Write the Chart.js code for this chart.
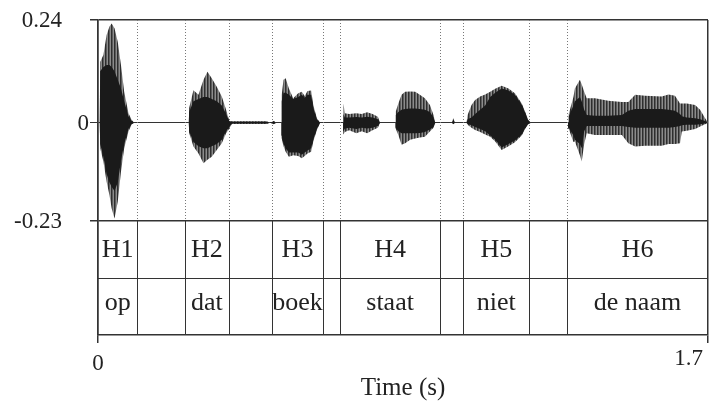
<!DOCTYPE html>
<html>
<head>
<meta charset="utf-8">
<title>Waveform</title>
<script src="https://cdn.jsdelivr.net/npm/chart.js@4.4.1/dist/chart.umd.min.js"></script>
<style>
  html, body { margin: 0; padding: 0; background: #fff; }
  #wrap { width: 711px; height: 403px; }
</style>
</head>
<body>
<div id="wrap"><canvas id="waveChart"></canvas></div>
<script>
// amplitude envelope of the recording, one row per word
const waveTime = [
    0, 0.005, 0.006, 0.015, 0.024, 0.032, 0.038, 0.046, 0.055, 0.064, 0.073, 0.085, 0.094, 0.101,
    0.253, 0.254, 0.266, 0.280, 0.294, 0.305, 0.317, 0.331, 0.345, 0.357, 0.366, 0.373, 0.470, 0.480, 0.490, 0.497,
    0.511, 0.512, 0.517, 0.523, 0.532, 0.544, 0.558, 0.568, 0.576, 0.584, 0.594, 0.600, 0.610, 0.619,
    0.683, 0.684, 0.688, 0.700, 0.720, 0.735, 0.750, 0.765, 0.780, 0.786,
    0.829, 0.830, 0.837, 0.846, 0.856, 0.870, 0.884, 0.897, 0.911, 0.925, 0.935, 0.940, 0.986, 0.990, 0.995,
    1.027, 1.030, 1.041, 1.051, 1.065, 1.079, 1.093, 1.107, 1.125, 1.144, 1.162, 1.181, 1.190, 1.199, 1.207,
    1.310, 1.312, 1.325, 1.329, 1.343, 1.348, 1.355, 1.362, 1.385, 1.422, 1.460, 1.478, 1.497, 1.525, 1.571, 1.590, 1.608, 1.622, 1.627, 1.641, 1.664, 1.678, 1.692, 1.700
];
const waveTop = [
    0, 0, 0.142, 0.158, 0.205, 0.225, 0.232, 0.221, 0.189, 0.135, 0.072, 0.022, 0.006, 0,
    0, 0.034, 0.076, 0.065, 0.100, 0.119, 0.104, 0.084, 0.061, 0.030, 0.004, 0.003, 0.003, 0, 0.004, 0,
    0, 0.065, 0.100, 0.104, 0.080, 0.057, 0.069, 0.072, 0.062, 0.074, 0.075, 0.041, 0.010, 0,
    0, 0.045, 0.022, 0.020, 0.022, 0.020, 0.024, 0.020, 0.014, 0,
    0, 0.026, 0.045, 0.065, 0.072, 0.073, 0.072, 0.065, 0.057, 0.041, 0.018, 0, 0, 0.010, 0,
    0, 0.018, 0.041, 0.053, 0.061, 0.066, 0.072, 0.079, 0.086, 0.080, 0.069, 0.045, 0.026, 0.006, 0,
    0, 0.020, 0.060, 0.080, 0.100, 0.090, 0.072, 0.057, 0.057, 0.051, 0.048, 0.048, 0.065, 0.063, 0.061, 0.066, 0.063, 0.045, 0.045, 0.045, 0.041, 0.030, 0.010, 0
];
const waveBottom = [
    0, 0, -0.060, -0.091, -0.138, -0.170, -0.200, -0.224, -0.185, -0.115, -0.060, -0.021, -0.004, 0,
    0, -0.024, -0.056, -0.072, -0.095, -0.087, -0.080, -0.064, -0.048, -0.025, -0.014, -0.003, -0.003, 0, -0.004, 0,
    0, -0.037, -0.055, -0.068, -0.080, -0.076, -0.078, -0.083, -0.078, -0.072, -0.068, -0.044, -0.017, 0,
    0, -0.027, -0.022, -0.018, -0.025, -0.020, -0.025, -0.018, -0.012, 0,
    0, -0.015, -0.029, -0.052, -0.048, -0.040, -0.037, -0.035, -0.033, -0.021, -0.012, 0, 0, -0.004, 0,
    0, -0.005, -0.012, -0.017, -0.022, -0.028, -0.033, -0.044, -0.064, -0.055, -0.046, -0.030, -0.015, -0.004, 0,
    0, -0.015, -0.045, -0.044, -0.076, -0.091, -0.050, -0.025, -0.029, -0.029, -0.029, -0.048, -0.056, -0.054, -0.054, -0.050, -0.050, -0.048, -0.021, -0.019, -0.015, -0.009, -0.004, 0
];
// the dense inner part of the signal
const coreTop = [
    0, 0, 0.120, 0.130, 0.135, 0.135, 0.130, 0.120, 0.100, 0.080, 0.050, 0.015, 0.004, 0,
    0, 0.025, 0.050, 0.055, 0.060, 0.060, 0.055, 0.050, 0.040, 0.020, 0.003, 0.002, 0.002, 0, 0.003, 0,
    0, 0.050, 0.070, 0.070, 0.065, 0.055, 0.060, 0.065, 0.058, 0.065, 0.065, 0.035, 0.008, 0,
    0, 0.020, 0.012, 0.012, 0.013, 0.012, 0.014, 0.012, 0.008, 0,
    0, 0.018, 0.025, 0.030, 0.032, 0.033, 0.033, 0.032, 0.030, 0.025, 0.012, 0, 0, 0.006, 0,
    0, 0.008, 0.012, 0.020, 0.030, 0.040, 0.060, 0.070, 0.080, 0.075, 0.065, 0.042, 0.024, 0.005, 0,
    0, 0.015, 0.040, 0.050, 0.060, 0.050, 0.030, 0.018, 0.016, 0.016, 0.018, 0.028, 0.032, 0.032, 0.032, 0.030, 0.028, 0.020, 0.015, 0.012, 0.010, 0.008, 0.004, 0
];
const coreBottom = [
    0, 0, -0.050, -0.080, -0.120, -0.140, -0.150, -0.160, -0.140, -0.090, -0.050, -0.015, -0.003, 0,
    0, -0.020, -0.045, -0.055, -0.060, -0.060, -0.055, -0.050, -0.040, -0.020, -0.010, -0.002, -0.002, 0, -0.003, 0,
    0, -0.030, -0.050, -0.060, -0.070, -0.070, -0.070, -0.075, -0.070, -0.065, -0.060, -0.040, -0.015, 0,
    0, -0.020, -0.014, -0.012, -0.015, -0.012, -0.014, -0.012, -0.008, 0,
    0, -0.012, -0.020, -0.025, -0.025, -0.025, -0.025, -0.024, -0.022, -0.016, -0.010, 0, 0, -0.003, 0,
    0, -0.003, -0.006, -0.010, -0.015, -0.020, -0.030, -0.040, -0.058, -0.050, -0.042, -0.028, -0.014, -0.003, 0,
    0, -0.012, -0.030, -0.040, -0.050, -0.060, -0.020, -0.008, -0.008, -0.008, -0.008, -0.010, -0.012, -0.012, -0.012, -0.012, -0.010, -0.008, -0.006, -0.005, -0.005, -0.004, -0.002, 0
];

const yTicks = [-0.23, 0, 0.24];
const xTicks = [0, 1.7];

// annotation tiers (seconds)
const segStart = [0, 0.243, 0.486, 0.675, 1.018, 1.307];
const segEnd = [0.110, 0.364, 0.626, 0.953, 1.202, 1.7];
const toneLabels = ['H1', 'H2', 'H3', 'H4', 'H5', 'H6'];
const wordLabels = ['op', 'dat', 'boek', 'staat', 'niet', 'de naam'];
const tierRows = 2;
const tierRowSpan = 0.1333; // height of one tier row in amplitude units

const serif = '"Liberation Serif", "Times New Roman", serif';
const inkColor = '#222';
const lineColor = '#333';

function toPoints(ys) {
    return waveTime.map((t, i) => ({ x: t, y: ys[i] }));
}

// vertical stripes for the outer (sparse) part of the waveform
function stripePattern() {
    const c = document.createElement('canvas');
    c.width = 3;
    c.height = 4;
    const g = c.getContext('2d');
    g.fillStyle = '#8c8c8c';
    g.fillRect(0, 0, 3, 4);
    g.fillStyle = '#5c5c5c';
    g.fillRect(1, 0, 1, 4);
    g.fillStyle = '#2e2e2e';
    g.fillRect(0, 0, 1, 4);
    return g.createPattern(c, 'repeat');
}

const tierPlugin = {
    id: 'tiers',
    beforeDatasetsDraw(chart) {
        const { ctx, scales: { x, y } } = chart;
        const top = y.getPixelForValue(yTicks[2]);
        const bottom = y.getPixelForValue(yTicks[0]);
        ctx.save();
        ctx.strokeStyle = '#777';
        ctx.lineWidth = 1;
        ctx.setLineDash([1, 2]);
        segStart.concat(segEnd).forEach(t => {
            if (t <= 0 || t >= 1.7) return;
            const px = Math.round(x.getPixelForValue(t)) + 0.5;
            ctx.beginPath();
            ctx.moveTo(px, top);
            ctx.lineTo(px, bottom);
            ctx.stroke();
        });
        ctx.restore();
    },
    afterDraw(chart) {
        const { ctx, chartArea, scales: { x, y } } = chart;
        const rowTop = y.getPixelForValue(yTicks[0]);
        const rowMid = y.getPixelForValue(yTicks[0] - tierRowSpan);
        const rowBottom = y.getPixelForValue(yTicks[0] - tierRows * tierRowSpan);
        ctx.save();
        ctx.strokeStyle = lineColor;
        ctx.lineWidth = 1;
        segStart.concat(segEnd).forEach(t => {
            if (t <= 0 || t >= 1.7) return;
            const px = Math.round(x.getPixelForValue(t)) + 0.5;
            ctx.beginPath();
            ctx.moveTo(px, rowTop);
            ctx.lineTo(px, rowBottom);
            ctx.stroke();
        });
        ctx.beginPath();
        ctx.moveTo(chartArea.left, Math.round(rowMid) + 0.5);
        ctx.lineTo(chartArea.right, Math.round(rowMid) + 0.5);
        ctx.stroke();

        ctx.fillStyle = inkColor;
        ctx.font = '26px ' + serif;
        ctx.textAlign = 'center';
        ctx.textBaseline = 'middle';
        segStart.forEach((s, i) => {
            const cx = (x.getPixelForValue(s) + x.getPixelForValue(segEnd[i])) / 2;
            ctx.fillText(toneLabels[i], cx, (rowTop + rowMid) / 2 + 1);
            ctx.fillText(wordLabels[i], cx, (rowMid + rowBottom) / 2 - 3);
        });

        // axis numbers
        ctx.font = '23px ' + serif;
        ctx.textAlign = 'right';
        yTicks.forEach(v => {
            const gap = v === 0 ? 9 : 36;
            ctx.fillText(String(v), chartArea.left - gap, y.getPixelForValue(v) + 1);
        });
        ctx.textBaseline = 'alphabetic';
        ctx.textAlign = 'center';
        ctx.fillText(String(xTicks[0]), x.getPixelForValue(xTicks[0]), rowBottom + 35);
        ctx.textAlign = 'right';
        ctx.fillText(String(xTicks[1]), x.getPixelForValue(xTicks[1]) - 5, rowBottom + 30);
        ctx.restore();
    }
};

const ctx = document.getElementById('waveChart').getContext('2d');
const stripes = stripePattern();
const noLine = 'rgba(0,0,0,0)';

new Chart(ctx, {
    type: 'line',
    data: {
        datasets: [
            { data: toPoints(coreTop), fill: '+1', backgroundColor: '#1a1a1a', borderColor: noLine },
            { data: toPoints(coreBottom), fill: false, borderColor: noLine },
            { data: toPoints(waveTop), fill: '+1', backgroundColor: stripes, borderColor: noLine },
            { data: toPoints(waveBottom), fill: false, borderColor: noLine }
        ]
    },
    options: {
        responsive: true,
        maintainAspectRatio: false,
        devicePixelRatio: 1,
        animation: false,
        layout: { padding: { top: 20, right: 3, left: 0, bottom: 0 } },
        elements: {
            point: { radius: 0 },
            line: { tension: 0, borderWidth: 1 }
        },
        plugins: {
            legend: { display: false },
            tooltip: { enabled: false }
        },
        scales: {
            x: {
                type: 'linear',
                min: 0,
                max: 1.7,
                afterBuildTicks: scale => { scale.ticks = xTicks.map(v => ({ value: v })); },
                afterFit: scale => { scale.height = 68; },
                ticks: { display: false },
                grid: { color: lineColor, lineWidth: 1.5, tickLength: 8 },
                border: { display: true, color: lineColor, width: 1.5 },
                title: {
                    display: true,
                    text: 'Time (s)',
                    color: inkColor,
                    font: { family: serif, size: 25 },
                    padding: { top: 0, bottom: 0 }
                }
            },
            y: {
                type: 'linear',
                min: yTicks[0] - tierRows * tierRowSpan,
                max: yTicks[2],
                afterBuildTicks: scale => { scale.ticks = yTicks.map(v => ({ value: v })); },
                afterFit: scale => { scale.width = 98; },
                ticks: { display: false },
                grid: {
                    color: lineColor,
                    lineWidth: c => (c.tick && c.tick.value === 0 ? 1 : 1.5),
                    tickLength: 8
                },
                border: { display: true, color: lineColor, width: 1.5 }
            }
        }
    },
    plugins: [tierPlugin]
});
</script>
</body>
</html>
